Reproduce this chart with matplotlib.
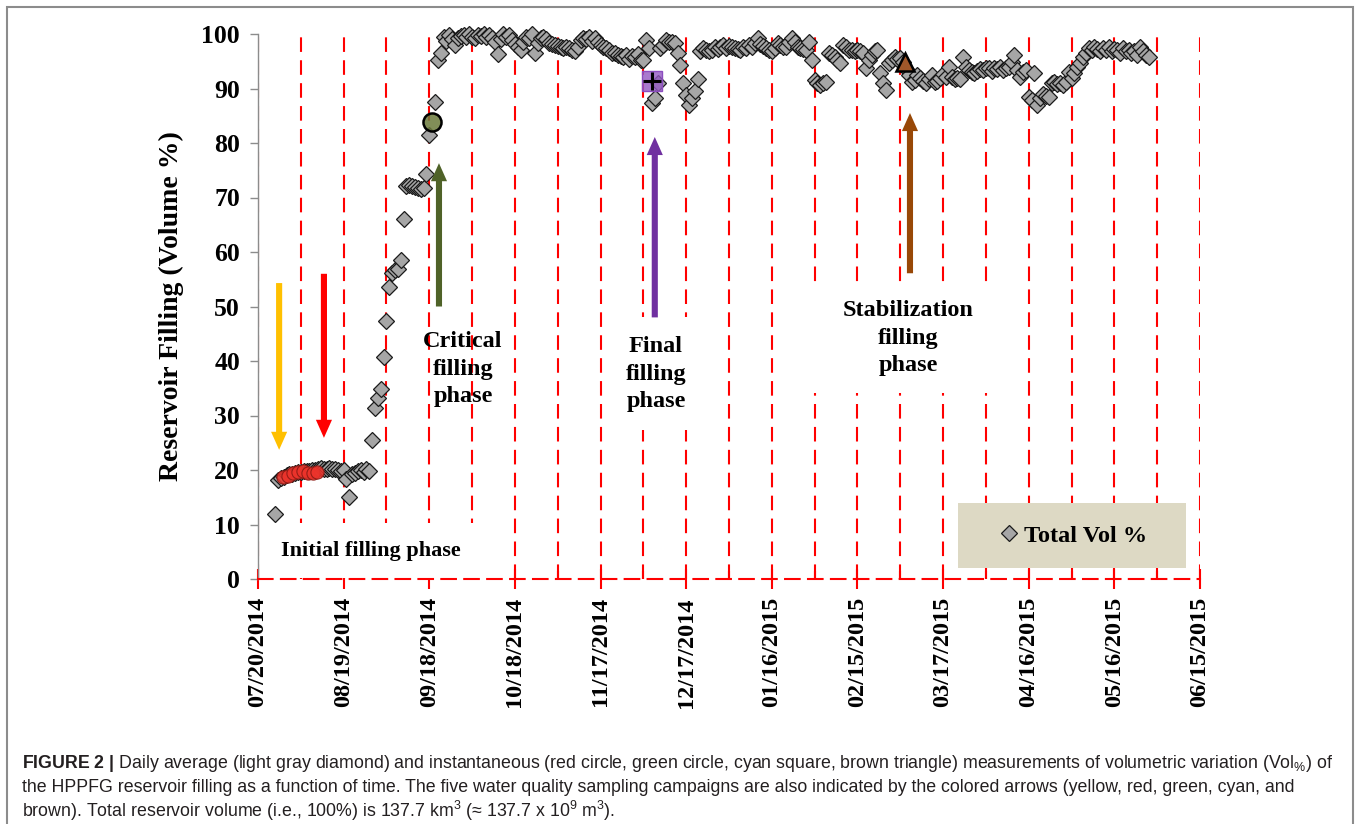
import numpy as np
import matplotlib
matplotlib.use('Agg')
import matplotlib.pyplot as plt
import matplotlib.dates as mdates
from matplotlib.patches import Rectangle
from matplotlib.ticker import FixedLocator, FixedFormatter
from datetime import datetime

# ---------------- data ----------------
start_date = "07/20/2014"
x_tick_labels = ["07/20/2014", "08/19/2014", "09/18/2014", "10/18/2014", "11/17/2014",
                 "12/17/2014", "01/16/2015", "02/15/2015", "03/17/2015", "04/16/2015",
                 "05/16/2015", "06/15/2015"]
y_ticks = [0, 10, 20, 30, 40, 50, 60, 70, 80, 90, 100]

# daily average (days after 07/20/2014, volume %)
avg_days = [6, 7, 8, 9, 10, 11, 12, 13, 14, 15, 16, 17, 18, 19, 20, 21, 22, 23, 24, 25,
            26, 27, 28, 29, 30, 31, 32, 33, 34, 35, 36, 37, 38, 39, 40, 41, 42, 43, 44, 45,
            46, 47, 48, 49, 50, 51, 52, 53, 54, 55, 56, 57, 58, 59, 60, 62, 63, 64, 65, 66,
            67, 68, 69, 70, 71, 72, 73, 74, 75, 76, 77, 78, 79, 80, 81, 82, 83, 84, 85, 86,
            87, 88, 89, 90, 91, 92, 93, 94, 95, 96, 97, 98, 99, 100, 101, 102, 103, 104, 105, 106,
            107, 108, 109, 110, 111, 112, 113, 114, 115, 116, 117, 118, 119, 120, 121, 122, 123, 124, 125, 126,
            127, 128, 129, 130, 131, 132, 133, 134, 135, 136, 137, 138, 139, 140, 141, 142, 143, 144, 145, 146,
            147, 148, 149, 150, 151, 152, 153, 154, 155, 156, 157, 158, 159, 160, 161, 162, 163, 164, 165, 166,
            167, 168, 169, 170, 171, 172, 173, 174, 175, 176, 177, 178, 179, 180, 181, 182, 183, 184, 185, 186,
            187, 188, 189, 190, 191, 192, 193, 194, 195, 196, 197, 198, 199, 200, 201, 202, 203, 204, 205, 206,
            207, 208, 209, 210, 211, 212, 213, 214, 215, 216, 217, 218, 219, 220, 221, 222, 223, 224, 225, 226,
            227, 228, 229, 230, 231, 232, 233, 234, 235, 236, 237, 238, 239, 240, 241, 242, 243, 244, 245, 246,
            247, 248, 249, 250, 251, 252, 253, 254, 255, 256, 257, 258, 259, 260, 261, 262, 263, 264, 265, 266,
            267, 268, 269, 270, 271, 272, 273, 274, 275, 276, 277, 278, 279, 280, 281, 282, 283, 284, 285, 286,
            287, 288, 289, 290, 291, 292, 293, 294, 295, 296, 297, 298, 299, 300, 301, 302, 303, 304, 305, 306,
            307, 308, 309, 310, 311, 312]
avg_vol = [12.0, 18.2, 18.5, 18.8, 19.0, 19.2, 19.3, 19.5, 19.6, 19.7, 19.8, 19.8, 19.9, 20.0, 20.0, 20.1, 20.3, 20.2, 20.2, 20.3,
           20.2, 20.1, 20.0, 19.9, 20.0, 18.3, 15.0, 19.3, 19.5, 19.8, 20.0, 19.7, 20.2, 19.9, 25.5, 31.4, 33.3, 34.9, 40.8, 47.3,
           53.5, 56.2, 56.7, 56.8, 58.5, 66.0, 72.1, 72.3, 72.2, 72.0, 71.8, 71.5, 71.7, 74.4, 81.5, 87.6, 95.2, 96.5, 99.5, 98.8,
           99.8, 99.0, 98.0, 99.2, 99.6, 99.8, 99.4, 100.0, 99.5, 99.2, 99.8, 99.6, 100.0, 99.4, 99.8, 99.2, 98.6, 96.3, 99.0, 100.0,
           99.5, 99.8, 98.9, 98.2, 97.6, 97.1, 98.6, 99.5, 99.2, 100.0, 96.5, 98.4, 99.2, 99.5, 99.0, 98.3, 98.1, 98.0, 97.8, 97.7,
           97.5, 97.6, 97.4, 97.1, 96.8, 97.6, 98.9, 99.3, 99.0, 99.5, 98.8, 99.2, 98.5, 98.0, 97.6, 97.4, 97.0, 96.6, 96.5, 96.2,
           95.9, 95.8, 96.2, 95.5, 95.9, 95.8, 96.3, 95.2, 95.2, 98.9, 97.4, 87.3, 88.2, 91.0, 97.5, 98.0, 98.9, 98.6, 98.6, 98.3,
           96.5, 94.3, 91.0, 88.8, 86.9, 88.2, 89.5, 91.7, 96.8, 97.4, 97.0, 96.8, 97.1, 97.7, 97.2, 97.6, 97.9, 97.4, 97.8, 97.7,
           97.5, 97.3, 97.1, 97.6, 97.4, 97.9, 97.7, 98.4, 99.2, 98.2, 97.8, 97.4, 97.0, 96.8, 97.5, 98.3, 98.0, 97.6, 97.7, 98.6,
           99.2, 98.5, 97.7, 97.4, 97.2, 97.0, 98.5, 95.2, 91.6, 91.0, 90.6, 91.0, 91.2, 96.5, 96.2, 95.8, 95.2, 94.6, 98.0, 97.6,
           97.1, 97.0, 96.8, 97.0, 96.8, 96.5, 93.7, 95.2, 96.2, 96.8, 97.0, 92.8, 91.0, 89.7, 94.6, 95.2, 95.8, 95.4, 95.6, 94.8,
           93.6, 92.4, 91.2, 91.6, 92.5, 92.0, 91.4, 91.0, 91.8, 92.5, 91.2, 91.4, 91.9, 92.6, 92.2, 94.0, 92.2, 91.8, 92.0, 91.7,
           95.8, 94.0, 93.4, 93.0, 92.8, 93.2, 93.6, 93.4, 93.8, 93.7, 93.2, 93.7, 93.5, 93.9, 93.4, 93.8, 94.0, 94.8, 96.1, 93.4,
           92.2, 93.0, 93.4, 88.5, 87.9, 92.8, 87.0, 88.2, 89.0, 88.6, 88.5, 91.0, 91.2, 90.8, 91.0, 90.6, 91.2, 93.1, 92.0, 92.8,
           94.0, 94.6, 95.8, 96.5, 97.4, 97.0, 97.7, 97.2, 96.8, 97.4, 97.0, 97.7, 96.9, 97.3, 97.1, 96.6, 97.4, 96.8, 97.1, 96.5,
           96.8, 96.2, 97.7, 96.8, 96.1, 95.8]

# instantaneous measurements
red_days = [8.9, 10.6, 12.4, 14.1, 15.9, 17.6, 19.4, 20.6]
red_vol = [18.7, 18.9, 19.4, 19.7, 19.8, 19.5, 19.5, 19.7]
green_day, green_vol = 60.8, 83.8
square_day, square_vol = 138.2, 91.4
triangle_day, triangle_vol = 226.6, 94.8

# sampling-campaign arrows: (day, tail value, head value)
arrow_days = [7.4, 23.1, 63.4, 139.0, 228.4]
arrow_tail = [54.3, 56.0, 50.0, 48.0, 56.1]
arrow_head = [23.7, 25.9, 76.3, 81.1, 85.5]
arrow_colors = ["#FFC000", "#FF0000", "#4F6228", "#7030A0", "#984807"]

phase_labels = ["Initial filling phase", "Critical\nfilling\nphase", "Final\nfilling\nphase",
                "Stabilization\nfilling\nphase"]
phase_pos = [(39.6, 5.1), (71.8, 38.5), (139.4, 37.6), (227.7, 44.2)]

# ---------------- figure ----------------
plt.rcParams['mathtext.fontset'] = 'custom'
plt.rcParams['mathtext.rm'] = 'Liberation Sans'
plt.rcParams['mathtext.bf'] = 'Liberation Sans:bold'
plt.rcParams['mathtext.it'] = 'Liberation Sans:italic'

W, H = 1360, 824
fig = plt.figure(figsize=(W / 100, H / 100), dpi=100)
ax = fig.add_axes([258 / W, 1 - 579 / H, 942 / W, 545 / H])

x0 = mdates.date2num(datetime.strptime(start_date, "%m/%d/%Y"))
major_pos = [mdates.date2num(datetime.strptime(s, "%m/%d/%Y")) for s in x_tick_labels]
minor_pos = [(a + b) / 2 for a, b in zip(major_pos[:-1], major_pos[1:])]

serif = ['Liberation Serif', 'DejaVu Serif']

# gridlines
ax.set_axisbelow(True)
ax.xaxis.set_major_locator(FixedLocator(major_pos))
ax.xaxis.set_major_formatter(FixedFormatter(x_tick_labels))
ax.xaxis.set_minor_locator(FixedLocator(minor_pos))
ax.grid(axis='x', which='both', color='#FF0000', linestyle=(0, (7, 4)), linewidth=1.5)

ax.set_xlim(major_pos[0], major_pos[-1])
ax.set_ylim(0, 100)
ax.set_yticks(y_ticks)

for s in ['top', 'right']:
    ax.spines[s].set_visible(False)
ax.spines['left'].set_color('#8c8c8c')
ax.spines['left'].set_linewidth(1.0)
ax.spines['bottom'].set_color('#FF0000')
ax.spines['bottom'].set_linewidth(1.5)
ax.spines['bottom'].set_linestyle((0, (7, 4)))

ax.tick_params(axis='y', direction='out', length=6, width=1, color='#8c8c8c', pad=7)
ax.tick_params(axis='x', which='major', direction='inout', length=14, width=1.5, color='#FF0000', pad=6)
ax.tick_params(axis='x', which='minor', direction='in', length=6, width=1.5, color='#FF0000')
for lab in ax.get_yticklabels():
    lab.set_fontfamily(serif); lab.set_fontweight('bold'); lab.set_fontsize(18.5)
for lab in ax.get_xticklabels():
    lab.set_fontfamily(serif); lab.set_fontweight('bold'); lab.set_fontsize(17.5)
    lab.set_rotation(90)

ax.set_ylabel("Reservoir Filling (Volume %)", fontfamily=serif, fontweight='bold', fontsize=20)
ax.yaxis.set_label_coords((184 - 258) / 942, 0.5)

# white boxes behind phase labels
box_specs = [(0.004, 0.002, 0.258, 0.101), (0.374, 0.273, 0.095, 0.208), (0.581, 0.341, 0.217, 0.198)]
for bx, by, bw, bh in box_specs:
    ax.add_patch(Rectangle((bx, by), bw, bh, transform=ax.transAxes, facecolor='white',
                           edgecolor='none', zorder=1.2))

# data
xd = x0 + np.array(avg_days, dtype=float)
ax.plot(xd, avg_vol, linestyle='none', marker='D', markersize=7.8, markerfacecolor='#A6A6A6',
        markeredgecolor='#1a1a1a', markeredgewidth=0.9, zorder=3, clip_on=False, label='Total Vol %')
ax.plot(x0 + np.array(red_days), red_vol, linestyle='none', marker='o', markersize=9.5,
        markerfacecolor=(0.93, 0.2, 0.17, 0.85), markeredgecolor=(0.55, 0.1, 0.08, 0.9),
        markeredgewidth=0.8, zorder=4)
ax.plot([x0 + green_day], [green_vol], linestyle='none', marker='o', markersize=13,
        markerfacecolor=(0.42, 0.48, 0.23, 0.85), markeredgecolor='black', markeredgewidth=1.8, zorder=4)
ax.plot([x0 + square_day], [square_vol], linestyle='none', marker='s', markersize=14,
        markerfacecolor=(0.58, 0.35, 0.76, 0.8), markeredgecolor=(0.55, 0.3, 0.75), markeredgewidth=1, zorder=4)
ax.plot([x0 + square_day], [square_vol], linestyle='none', marker='+', markersize=13,
        markeredgecolor='black', markeredgewidth=2.2, zorder=5)
ax.plot([x0 + triangle_day], [triangle_vol], linestyle='none', marker='^', markersize=13.5,
        markerfacecolor='#A0582A', markeredgecolor='black', markeredgewidth=1.8, zorder=4)

# arrows
for d, t, h, c in zip(arrow_days, arrow_tail, arrow_head, arrow_colors):
    ax.annotate('', xy=(x0 + d, h), xytext=(x0 + d, t),
                arrowprops=dict(arrowstyle='simple,head_length=0.65,head_width=0.58,tail_width=0.22',
                                color=c, shrinkA=0, shrinkB=0, mutation_scale=20, lw=0),
                zorder=3)

# phase labels
for i, (lbl, (pd_, pv)) in enumerate(zip(phase_labels, phase_pos)):
    ax.text(x0 + pd_, pv, lbl, ha='center', va='center', fontfamily=serif, fontweight='bold',
            fontsize=16 if i == 0 else 17.5, linespacing=1.4, zorder=2)

# legend
ax.add_patch(Rectangle((0.743, 0.020), 0.242, 0.119, transform=ax.transAxes, facecolor='#DDD9C4',
                       edgecolor='none', zorder=4))
leg = ax.legend(loc='center', bbox_to_anchor=(0.866, 0.0798), frameon=False, handlelength=0.7,
                handletextpad=0.3, prop={'family': serif, 'weight': 'bold', 'size': 17.5})
leg.set_zorder(5)

# outer frame
fig.add_artist(Rectangle((7 / W, -0.05), (W - 14) / W, 1.05 - 7 / H, transform=fig.transFigure,
                         facecolor='none', edgecolor='#8c8c8c', linewidth=1.5, clip_on=False))

# caption
cap_font = ['Liberation Sans', 'DejaVu Sans']
cap_lines = [r'$\bf{FIGURE\ 2\ |}$ Daily average (light gray diamond) and instantaneous (red circle, green circle, cyan square, brown triangle) measurements of volumetric variation (Vol$_{\%}$) of',
             'the HPPFG reservoir filling as a function of time. The five water quality sampling campaigns are also indicated by the colored arrows (yellow, red, green, cyan, and',
             r'brown). Total reservoir volume (i.e., 100%) is 137.7 km$^3$ (≈ 137.7 x 10$^9$ m$^3$).']
for yy, line in zip([764, 788, 811], cap_lines):
    fig.text(22 / W, 1 - yy / H, line, ha='left', va='center', fontsize=12.8, family=cap_font,
             color='#231f20')

fig.savefig('out.png', dpi=100)
